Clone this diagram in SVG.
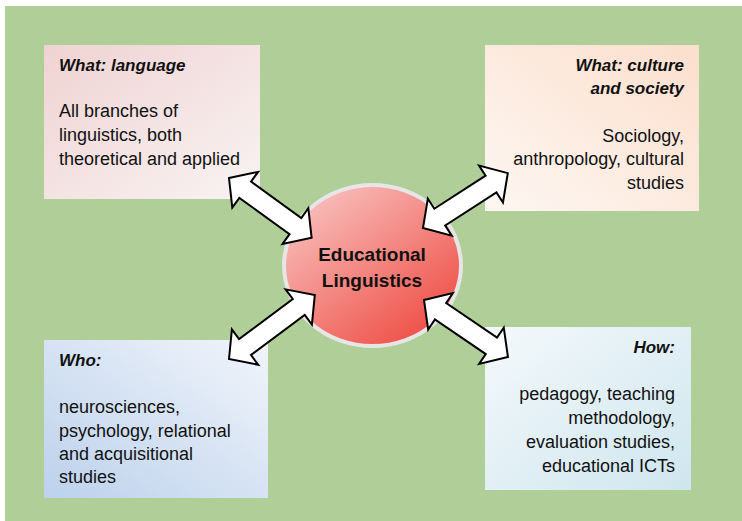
<svg xmlns="http://www.w3.org/2000/svg" width="742" height="521" viewBox="0 0 742 521">
<defs>
<linearGradient id="g1" x1="0" y1="0" x2="1" y2="1"><stop offset="0" stop-color="#efd3d2"/><stop offset="1" stop-color="#f9f3f3"/></linearGradient>
<linearGradient id="g2" x1="1" y1="0" x2="0" y2="1"><stop offset="0" stop-color="#fcdfcd"/><stop offset="1" stop-color="#fdf7f2"/></linearGradient>
<linearGradient id="g3" x1="0" y1="1" x2="1" y2="0"><stop offset="0" stop-color="#bcd1ec"/><stop offset="1" stop-color="#f1f5fb"/></linearGradient>
<linearGradient id="g4" x1="1" y1="1" x2="0" y2="0"><stop offset="0" stop-color="#cfe6ef"/><stop offset="1" stop-color="#f4f9fb"/></linearGradient>
<linearGradient id="gc" x1="0.15" y1="0.1" x2="0.85" y2="0.95"><stop offset="0" stop-color="#f8bcba"/><stop offset="1" stop-color="#ee4c42"/></linearGradient>
</defs>
<style>
.box{stroke:none}
.t{font-family:"Liberation Sans",Arial,sans-serif;font-size:18px;fill:#111}
.h{font-family:"Liberation Sans",Arial,sans-serif;font-size:17px;font-weight:bold;font-style:italic;fill:#111}
.r{text-anchor:end}
.c{font-family:"Liberation Sans",Arial,sans-serif;font-size:19px;font-weight:bold;fill:#111;text-anchor:middle}
.arr{fill:#fff;stroke:#000;stroke-width:2;stroke-linejoin:miter}
</style>
<rect x="0" y="0" width="742" height="521" fill="#fff"/>
<rect x="5" y="6" width="737" height="515" fill="#b0ce98"/>
<g id="n-language">
<rect class="box" x="44" y="45" width="216" height="154" fill="url(#g1)"/>
<text class="h" x="59" y="71">What: language</text>
<text class="t" x="59" y="117">All branches of</text>
<text class="t" x="59" y="141">linguistics, both</text>
<text class="t" x="59" y="165">theoretical and applied</text>
</g>
<g id="n-culture">
<rect class="box" x="485" y="45" width="214" height="166" fill="url(#g2)"/>
<text class="h r" x="684" y="71">What: culture</text>
<text class="h r" x="684" y="94">and society</text>
<text class="t r" x="684" y="142">Sociology,</text>
<text class="t r" x="684" y="165">anthropology, cultural</text>
<text class="t r" x="684" y="189">studies</text>
</g>
<g id="n-who">
<rect class="box" x="44" y="340" width="224" height="158" fill="url(#g3)"/>
<text class="h" x="59" y="366">Who:</text>
<text class="t" x="59" y="413">neurosciences,</text>
<text class="t" x="59" y="437">psychology, relational</text>
<text class="t" x="59" y="460">and acquisitional</text>
<text class="t" x="59" y="483">studies</text>
</g>
<g id="n-how">
<rect class="box" x="485" y="327" width="206" height="163" fill="url(#g4)"/>
<text class="h r" x="675" y="353">How:</text>
<text class="t r" x="675" y="400">pedagogy, teaching</text>
<text class="t r" x="675" y="424">methodology,</text>
<text class="t r" x="675" y="448">evaluation studies,</text>
<text class="t r" x="675" y="472">educational ICTs</text>
</g>
<g id="n-center">
<ellipse cx="372.5" cy="265.5" rx="88.5" ry="80.5" fill="url(#gc)" stroke="#e6e6e6" stroke-width="4"/>
<text class="c" x="372" y="261">Educational</text>
<text class="c" x="372" y="287">Linguistics</text>
</g>
<g id="connectors">
<polygon class="arr" transform="translate(229,178) rotate(35.9)" points="0,0 20,-22 20,-10 82,-10 82,-22 102,0 82,22 82,10 20,10 20,22"/>
<polygon class="arr" transform="translate(423,228) rotate(-32.9)" points="0,0 20,-22 20,-10 81,-10 81,-22 101,0 81,22 81,10 20,10 20,22"/>
<polygon class="arr" transform="translate(229,359) rotate(-36.7)" points="0,0 20,-22 20,-10 87,-10 87,-22 107,0 87,22 87,10 20,10 20,22"/>
<polygon class="arr" transform="translate(424,300) rotate(34.2)" points="0,0 20,-22 20,-10 81.5,-10 81.5,-22 101.5,0 81.5,22 81.5,10 20,10 20,22"/>
</g>
</svg>
